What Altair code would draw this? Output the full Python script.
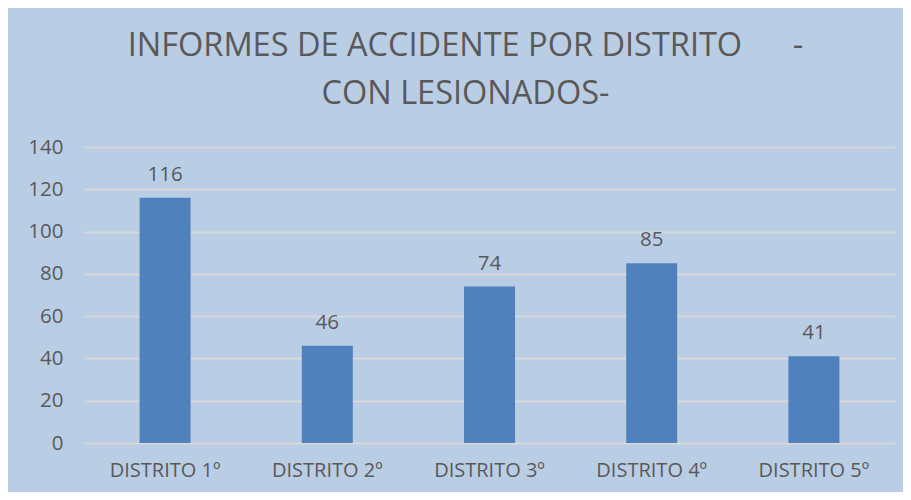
import altair as alt
import pandas as pd

categories = ["DISTRITO 1º", "DISTRITO 2º", "DISTRITO 3º", "DISTRITO 4º", "DISTRITO 5º"]
values = [116, 46, 74, 85, 41]
y_ticks = [0, 20, 40, 60, 80, 100, 120, 140]
title_lines = ["INFORMES DE ACCIDENTE POR DISTRITO\u00a0\u00a0\u00a0\u00a0\u00a0\u00a0-", "CON LESIONADOS-"]

df = pd.DataFrame({"distrito": categories, "n": values})

TXT = "#595959"
FONT = "Open Sans"

base = alt.Chart(df).encode(
    x=alt.X("distrito:N", sort=categories,
            scale=alt.Scale(paddingInner=0, paddingOuter=0),
            axis=alt.Axis(title=None, labelAngle=0, domain=False, ticks=False,
                          labelPadding=17, labelFontSize=20, labelColor=TXT, labelFont=FONT)),
    y=alt.Y("n:Q", scale=alt.Scale(domain=[0, 140], nice=False),
            axis=alt.Axis(title=None, values=y_ticks, domain=False, ticks=False,
                          labelPadding=21, labelFontSize=20.5, labelColor=TXT, labelFont=FONT,
                          gridColor="#d9d9d9", gridWidth=2)),
)

bars = base.mark_bar(size=51, color="#4f81bd")
labels = base.mark_text(baseline="alphabetic", dy=-17, fontSize=20.5, color=TXT, font=FONT).encode(
    text="n:Q")

chart = (bars + labels).properties(
    width=811, height=296,
    autosize=alt.AutoSizeParams(type="none"),
    padding={"left": 76, "top": 139, "right": 8, "bottom": 49},
    title=alt.TitleParams(text=title_lines, anchor="middle", frame="group",
                          fontSize=32.5, font=FONT, fontWeight="normal", color=TXT,
                          lineHeight=48, offset=27, dx=-24),
).configure(background="#b9cde5").configure_view(stroke=None)

chart.save("out.html", embed_options={"renderer": "svg", "actions": False})
